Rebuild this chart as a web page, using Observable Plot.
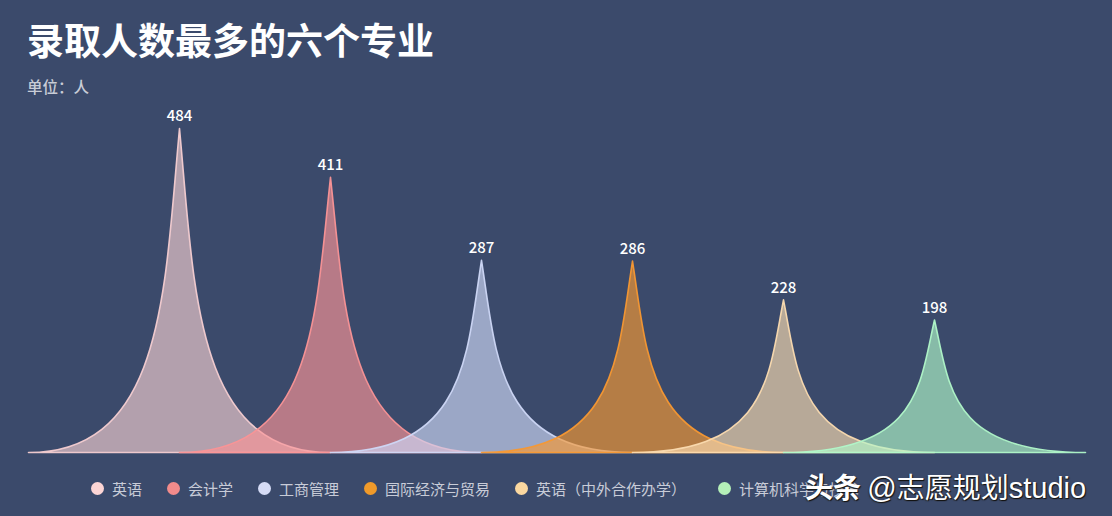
<!DOCTYPE html>
<html>
<head>
<meta charset="utf-8">
<script src="https://cdn.jsdelivr.net/npm/d3@7"></script>
<script src="https://cdn.jsdelivr.net/npm/@observablehq/plot@0.6"></script>
<style>
  html, body { margin: 0; padding: 0; }
  body { width: 1112px; height: 516px; background: #3b4a6b; position: relative; overflow: hidden;
         font-family: "Noto Sans CJK SC", "Noto Sans", sans-serif; }
  #title { position: absolute; left: 27px; top: 13px; font-size: 37px; font-weight: 700; color: #ffffff; line-height: 52px; }
  #subtitle { position: absolute; left: 27px; top: 75px; font-size: 15.5px; font-weight: 500; color: #c8ccd6; line-height: 22px; }
  #chart { position: absolute; left: 0; top: 100px; }
  #legend { position: absolute; left: 91px; top: 477px; display: flex; align-items: center; height: 22px; }
  .item { display: flex; align-items: center; margin-right: 25px; font-size: 15px; color: #c8ccd8; }
  .item:nth-child(5) { margin-right: 32px; }
  .dot { width: 13px; height: 13px; border-radius: 50%; margin-right: 8px; }
  #wm { position: absolute; left: 805px; top: 468px; font-size: 28px; color: #ffffff; line-height: 36px;
        text-shadow: 1px 1px 1px #111, -1px 1px 1px #333; font-family: "Noto Sans CJK SC", sans-serif; white-space: nowrap; }
  #wm .s { font-family: "Liberation Sans", "DejaVu Sans", sans-serif; font-size: 29px; }
</style>
</head>
<body>
<div id="title">录取人数最多的六个专业</div>
<div id="subtitle">单位：人</div>
<div id="chart"></div>
<div id="legend"></div>
<div id="wm"><b>头条</b> <span class="s">@</span>志愿规划<span class="s">studio</span></div>
<script>
const majors = ["英语", "会计学", "工商管理", "国际经济与贸易", "英语（中外合作办学）", "计算机科学与技术"];
const counts = [484, 411, 287, 286, 228, 198];
const colors = ["#f4ced1", "#fa9496", "#cfd8f7", "#f79831", "#fbdbb0", "#b1f8c9"];
const legendColors = ["#fcd5d5", "#f28b8b", "#d6dcf6", "#f09a2a", "#fbd8a0", "#b5f0b8"];

// each spike spans one category on either side of its centre
const points = majors.flatMap((m, i) => [
  {major: m, x: i - 1, y: 0},
  {major: m, x: i, y: counts[i]},
  {major: m, x: i + 1, y: 0}
]);
const labels = majors.map((m, i) => ({major: m, x: i, y: counts[i]}));

// spike shape: path://M0,10 L10,10 C5.5,10 5.5,5 5,0 C4.5,5 4.5,10 0,10 z
function spikeCurve(context) {
  let pts;
  return {
    areaStart() {}, areaEnd() {},
    lineStart() { pts = []; },
    point(x, y) { pts.push([+x, +y]); },
    lineEnd() {
      if (pts.length !== 3) {
        pts.forEach(([x, y], k) => k ? context.lineTo(x, y) : context.moveTo(x, y));
        return;
      }
      const [[x0, y0], [xp, yp], [x2]] = pts;
      const W = x2 - x0, H = y0 - yp;
      const X = u => x0 + u / 10 * W, Y = v => yp + v / 10 * H;
      context.moveTo(X(0), Y(10));
      context.bezierCurveTo(X(4.5), Y(10), X(4.5), Y(5), X(5), Y(0));
      context.bezierCurveTo(X(5.5), Y(5), X(5.5), Y(10), X(10), Y(10));
      context.closePath();
    }
  };
}

const chart = Plot.plot({
  width: 1112,
  height: 360,
  marginLeft: 28,
  marginRight: 27,
  marginTop: 28,
  marginBottom: 8,
  x: {domain: [-1, 6], axis: null},
  y: {domain: [0, 484], axis: null},
  color: {domain: majors, range: colors},
  style: {background: "transparent", overflow: "visible", fontFamily: "Noto Sans CJK SC, sans-serif"},
  marks: [
    Plot.line(points, {x: "x", y: "y", z: "major", fill: "major", stroke: "major",
      fillOpacity: 0.65, strokeOpacity: 0.95, strokeWidth: 1.6, curve: spikeCurve}),
    Plot.text(labels, {x: "x", y: "y", text: d => String(d.y), dy: -12, fill: "#ffffff",
      fontSize: 15, fontWeight: 500})
  ]
});
document.getElementById("chart").appendChild(chart);

const legend = document.getElementById("legend");
majors.forEach((m, i) => {
  const item = document.createElement("div");
  item.className = "item";
  const dot = document.createElement("span");
  dot.className = "dot";
  dot.style.background = legendColors[i];
  const t = document.createElement("span");
  t.textContent = m;
  item.appendChild(dot);
  item.appendChild(t);
  legend.appendChild(item);
});
</script>
</body>
</html>
